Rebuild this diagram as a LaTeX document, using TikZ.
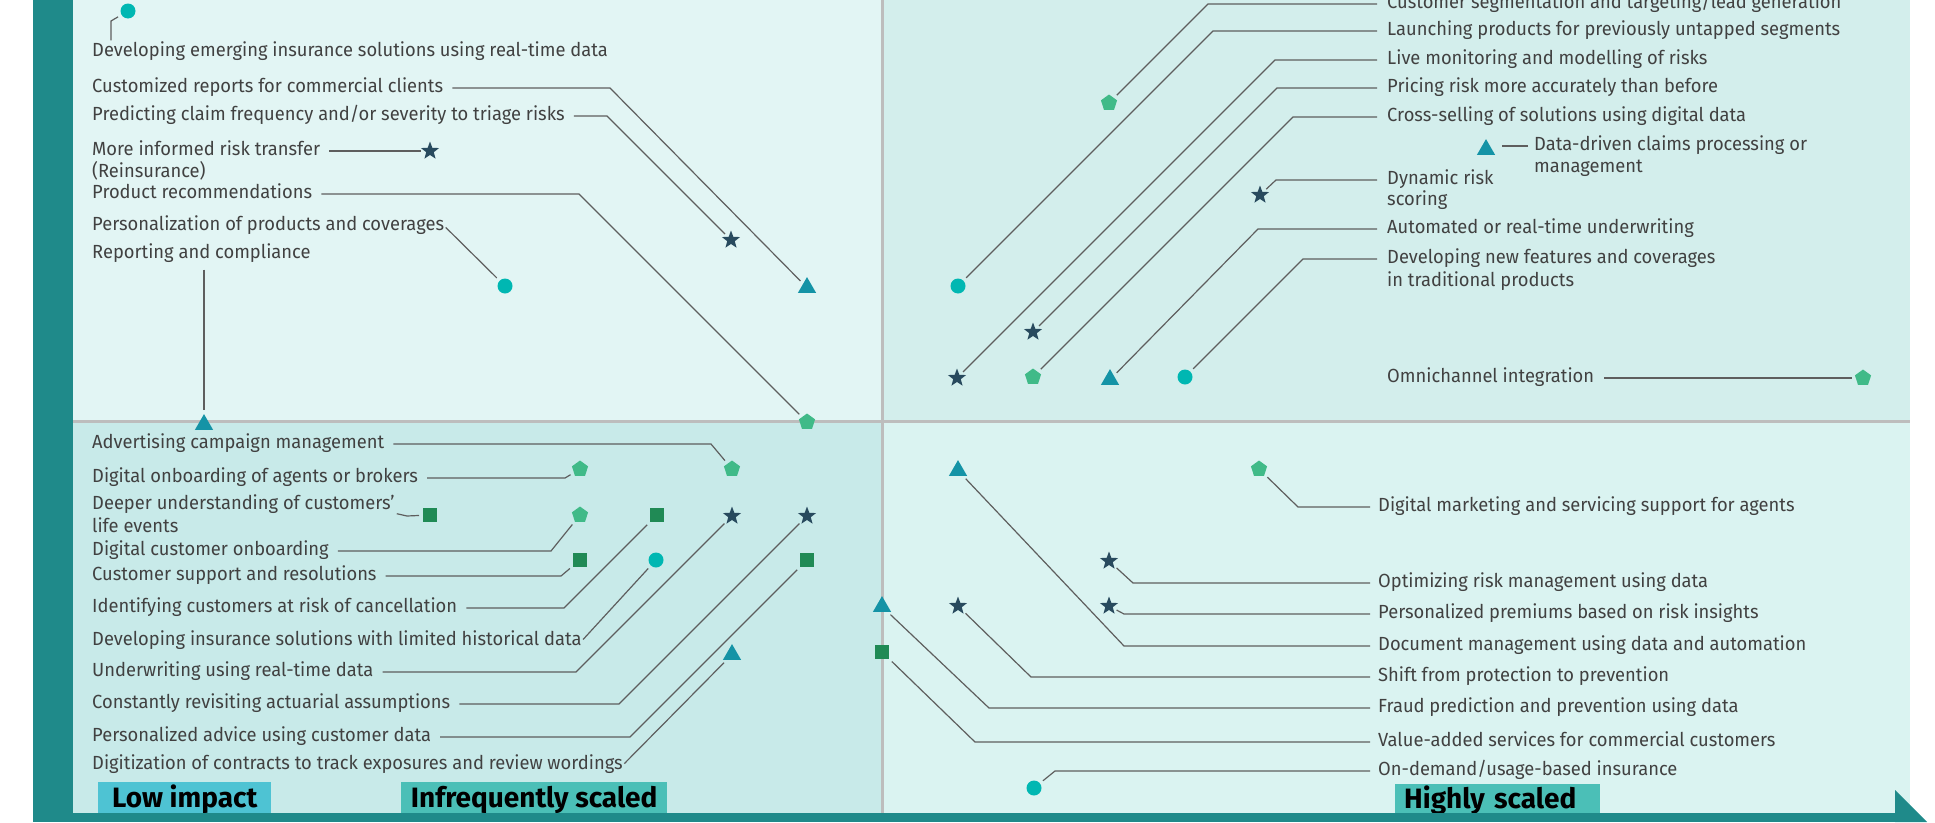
\documentclass[tikz,border=0pt]{standalone}
\usepackage{fontspec}
\setmainfont{Fira Sans}
\newfontfamily\lblfont{Fira Sans}[FakeStretch=0.965]
\usetikzlibrary{shapes.geometric}
\definecolor{barc}{HTML}{1F8A8A}
\definecolor{tlc}{HTML}{E2F5F4}
\definecolor{trc}{HTML}{D3EEEC}
\definecolor{blc}{HTML}{C8EAE9}
\definecolor{brc}{HTML}{DAF3F1}
\definecolor{gridc}{HTML}{BDBDBD}
\definecolor{linec}{HTML}{5E5E5E}
\definecolor{txtc}{HTML}{414141}
\definecolor{circc}{HTML}{00B7B2}
\definecolor{tric}{HTML}{1493A6}
\definecolor{starc}{HTML}{284A5E}
\definecolor{sqc}{HTML}{208A55}
\definecolor{pentc}{HTML}{40BA88}
\definecolor{lowc}{HTML}{4EC3D3}
\definecolor{scalec}{HTML}{4BBFB7}
\begin{document}
\begin{tikzpicture}[x=1pt,y=-1pt,
  lbl/.style={anchor=west,inner sep=0pt,text height=13pt,text depth=4pt,text=txtc,font=\lblfont\fontsize{19}{22}\selectfont},
  conn/.style={draw=linec,line width=1.2pt,shorten >=4pt},
  mk/.style={inner sep=0pt,outer sep=0pt,draw=none},
  mcirc/.style={mk,circle,fill=circc,minimum size=15pt},
  mtri/.style={mk,regular polygon,regular polygon sides=3,fill=tric,minimum size=21pt,yshift=-2.6pt},
  mstar/.style={mk,star,star points=5,star point ratio=2.4,fill=starc,minimum size=19pt},
  msq/.style={mk,rectangle,fill=sqc,minimum size=14pt},
  mpent/.style={mk,regular polygon,regular polygon sides=5,fill=pentc,minimum size=17pt},
  tag/.style={anchor=north west,inner sep=0pt,text height=19pt,text depth=0pt,font=\bfseries\fontsize{28}{30}\selectfont,text=black},
]
\useasboundingbox (0,0) rectangle (1935,822);
% backgrounds
\fill[tlc] (73,0) rectangle (882,421);
\fill[trc] (882,0) rectangle (1910,421);
\fill[blc] (73,421) rectangle (882,813);
\fill[brc] (882,421) rectangle (1910,813);
\fill[barc] (33,0) rectangle (73,822);
\draw[gridc,line width=3pt] (882,0) -- (882,813);
\draw[gridc,line width=3pt] (73,421) -- (1910,421);

% ---------- top left ----------
\node[lbl] (t1) at (92,52) {Developing emerging insurance solutions using real-time data};
\node[mcirc] (m1) at (128,11) {};
\coordinate (k1) at (111,21);
\draw[conn,shorten <=3pt] (k1 |- t1.north) -- (k1) -- (m1);

\node[lbl] (t2) at (92,88) {Customized reports for commercial clients};
\node[mtri] (m2) at (807,285) {};
\coordinate (k2) at (610,88);
\draw[conn] ([xshift=9pt]t2.east) -- (k2) -- (m2);

\node[lbl] (t3) at (92,116) {Predicting claim frequency and/or severity to triage risks};
\node[mstar] (m3) at (731,240) {};
\coordinate (k3) at (607,116);
\draw[conn] ([xshift=9pt]t3.east) -- (k3) -- (m3);

\node[lbl] (t4) at (92,151) {More informed risk transfer};
\node[lbl] (t4b) at (92,173) {(Reinsurance)};
\node[mstar] (m4) at (430,151) {};
\draw[conn] ([xshift=9pt]t4.east) -- (m4);

\node[lbl] (t5) at (92,194) {Product recommendations};
\node[mpent] (m5) at (807,422) {};
\coordinate (k5) at (579,194);
\draw[conn] ([xshift=9pt]t5.east) -- (k5) -- (m5);

\node[lbl] (t6) at (92,226) {Personalization of products and coverages};
\node[mcirc] (m6) at (505,286) {};
\draw[conn,shorten <=2pt] (t6.east) -- (m6);

\node[lbl] (t7) at (92,254) {Reporting and compliance};
\node[mtri] (m7) at (204,422) {};
\draw[conn,shorten <=7pt] (m7 |- t7.south) -- (m7);

% ---------- top right ----------
\node[lbl] (r1) at (1387,4) {Customer segmentation and targeting/lead generation};
\node[mpent] (n1) at (1109,103) {};
\coordinate (q1) at (1208,4);
\draw[conn] ([xshift=-10pt]r1.west) -- (q1) -- (n1);

\node[lbl] (r2) at (1387,31) {Launching products for previously untapped segments};
\node[mcirc] (n2) at (958,286) {};
\coordinate (q2) at (1213,31);
\draw[conn] ([xshift=-10pt]r2.west) -- (q2) -- (n2);

\node[lbl] (r3) at (1387,60) {Live monitoring and modelling of risks};
\node[mstar] (n3) at (957,378) {};
\coordinate (q3) at (1275,60);
\draw[conn] ([xshift=-10pt]r3.west) -- (q3) -- (n3);

\node[lbl] (r4) at (1387,88) {Pricing risk more accurately than before};
\node[mstar] (n4) at (1033,332) {};
\coordinate (q4) at (1277,88);
\draw[conn] ([xshift=-10pt]r4.west) -- (q4) -- (n4);

\node[lbl] (r5) at (1387,117) {Cross-selling of solutions using digital data};
\node[mpent] (n5) at (1033,377) {};
\coordinate (q5) at (1293,117);
\draw[conn] ([xshift=-10pt]r5.west) -- (q5) -- (n5);

\node[lbl] (r6) at (1534,146) {Data-driven claims processing or};
\node[lbl] (r6b) at (1534,168) {management};
\node[mtri] (n6) at (1486,147) {};
\coordinate (q6) at (1502,146);
\draw[conn,shorten >=0pt] ([xshift=-6pt]r6.west) -- (q6);

\node[lbl] (r7) at (1387,180) {Dynamic risk};
\node[lbl] (r7b) at (1387,201) {scoring};
\node[mstar] (n7) at (1260,195) {};
\coordinate (q7) at (1276,180);
\draw[conn] ([xshift=-10pt]r7.west) -- (q7) -- (n7);

\node[lbl] (r8) at (1387,229) {Automated or real-time underwriting};
\node[mtri] (n8) at (1110,377) {};
\coordinate (q8) at (1258,229);
\draw[conn] ([xshift=-10pt]r8.west) -- (q8) -- (n8);

\node[lbl] (r9) at (1387,259) {Developing new features and coverages};
\node[lbl] (r9b) at (1387,282) {in traditional products};
\node[mcirc] (n9) at (1185,377) {};
\coordinate (q9) at (1303,259);
\draw[conn] ([xshift=-10pt]r9.west) -- (q9) -- (n9);

\node[lbl] (r10) at (1387,378) {Omnichannel integration};
\node[mpent] (n10) at (1863,378) {};
\draw[conn] ([xshift=10pt]r10.east) -- (n10);

% ---------- bottom left ----------
\node[lbl] (b1) at (92,444) {Advertising campaign management};
\node[mpent] (p1) at (732,469) {};
\coordinate (g1) at (711,444);
\draw[conn] ([xshift=9pt]b1.east) -- (g1) -- (p1);

\node[lbl] (b2) at (92,478) {Digital onboarding of agents or brokers};
\node[mpent] (p2) at (580,469) {};
\coordinate (g2) at (565,478);
\draw[conn] ([xshift=9pt]b2.east) -- (g2) -- (p2);

\node[lbl] (b3) at (92,505) {Deeper understanding of customers’};
\node[lbl] (b3b) at (92,528) {life events};
\node[msq] (p3) at (430,515) {};
\coordinate (g3) at (407,516);
\draw[conn] ([xshift=2pt]b3.south east) -- (g3) -- (p3);

\node[lbl] (b4) at (92,551) {Digital customer onboarding};
\node[mpent] (p4) at (580,515) {};
\coordinate (g4) at (551,551);
\draw[conn] ([xshift=9pt]b4.east) -- (g4) -- (p4);

\node[lbl] (b5) at (92,576) {Customer support and resolutions};
\node[msq] (p5) at (580,560) {};
\coordinate (g5) at (561,576);
\draw[conn] ([xshift=9pt]b5.east) -- (g5) -- (p5);

\node[lbl] (b6) at (92,608) {Identifying customers at risk of cancellation};
\node[msq] (p6) at (657,515) {};
\coordinate (g6) at (564,608);
\draw[conn] ([xshift=9pt]b6.east) -- (g6) -- (p6);

\node[lbl] (b7) at (92,641) {Developing insurance solutions with limited historical data};
\node[mcirc] (p7) at (656,560) {};
\draw[conn,shorten <=2pt] (b7.east) -- (p7);

\node[lbl] (b8) at (92,672) {Underwriting using real-time data};
\node[mstar] (p8) at (732,516) {};
\coordinate (g8) at (576,672);
\draw[conn] ([xshift=9pt]b8.east) -- (g8) -- (p8);

\node[lbl] (b9) at (92,704) {Constantly revisiting actuarial assumptions};
\node[mstar] (p9) at (807,516) {};
\coordinate (g9) at (619,704);
\draw[conn] ([xshift=9pt]b9.east) -- (g9) -- (p9);

\node[lbl] (b10) at (92,737) {Personalized advice using customer data};
\node[msq] (p10) at (807,560) {};
\coordinate (g10) at (630,737);
\draw[conn] ([xshift=9pt]b10.east) -- (g10) -- (p10);

\node[lbl] (b11) at (92,765) {Digitization of contracts to track exposures and review wordings};
\node[mtri] (p11) at (732,652) {};
\draw[conn,shorten <=2pt] (b11.east) -- (p11);

% ---------- bottom right ----------
\node[lbl] (d1) at (1378,507) {Digital marketing and servicing support for agents};
\node[mpent] (e1) at (1259,469) {};
\coordinate (h1) at (1298,507);
\draw[conn] ([xshift=-8pt]d1.west) -- (h1) -- (e1);

\node[lbl] (d2) at (1378,583) {Optimizing risk management using data};
\node[mstar] (e2) at (1109,561) {};
\coordinate (h2) at (1133,583);
\draw[conn] ([xshift=-8pt]d2.west) -- (h2) -- (e2);

\node[lbl] (d3) at (1378,614) {Personalized premiums based on risk insights};
\node[mstar] (e3) at (1109,606) {};
\coordinate (h3) at (1124,614);
\draw[conn] ([xshift=-8pt]d3.west) -- (h3) -- (e3);

\node[lbl] (d4) at (1378,646) {Document management using data and automation};
\node[mtri] (e4) at (958,468) {};
\coordinate (h4) at (1124,646);
\draw[conn] ([xshift=-8pt]d4.west) -- (h4) -- (e4);

\node[lbl] (d5) at (1378,677) {Shift from protection to prevention};
\node[mstar] (e5) at (958,606) {};
\coordinate (h5) at (1031,677);
\draw[conn] ([xshift=-8pt]d5.west) -- (h5) -- (e5);

\node[lbl] (d6) at (1378,708) {Fraud prediction and prevention using data};
\node[mtri] (e6) at (882,604) {};
\coordinate (h6) at (989,708);
\draw[conn] ([xshift=-8pt]d6.west) -- (h6) -- (e6);

\node[lbl] (d7) at (1378,742) {Value-added services for commercial customers};
\node[msq] (e7) at (882,652) {};
\coordinate (h7) at (975,742);
\draw[conn] ([xshift=-8pt]d7.west) -- (h7) -- (e7);

\node[lbl] (d8) at (1378,771) {On-demand/usage-based insurance};
\node[mcirc] (e8) at (1034,788) {};
\coordinate (h8) at (1055,771);
\draw[conn] ([xshift=-8pt]d8.west) -- (h8) -- (e8);

% ---------- axis labels ----------
\node[tag,fill=lowc,minimum width=173pt,minimum height=32pt] (L1) at (98,782) {Low impact};
\node[tag,fill=scalec,minimum width=266pt,minimum height=32pt] (L2) at (401,782) {Infrequently scaled};
\node[tag,fill=scalec,minimum width=205pt,minimum height=29pt,inner xsep=9pt,text width=187pt,align=left] (L3) at (1395,784) {Highly scaled};

% bottom axis arrow
\fill[barc] (33,813) rectangle (1895,822);
\fill[barc] (1895,790) -- (1927,822) -- (1895,822) -- cycle;
\end{tikzpicture}
\end{document}
